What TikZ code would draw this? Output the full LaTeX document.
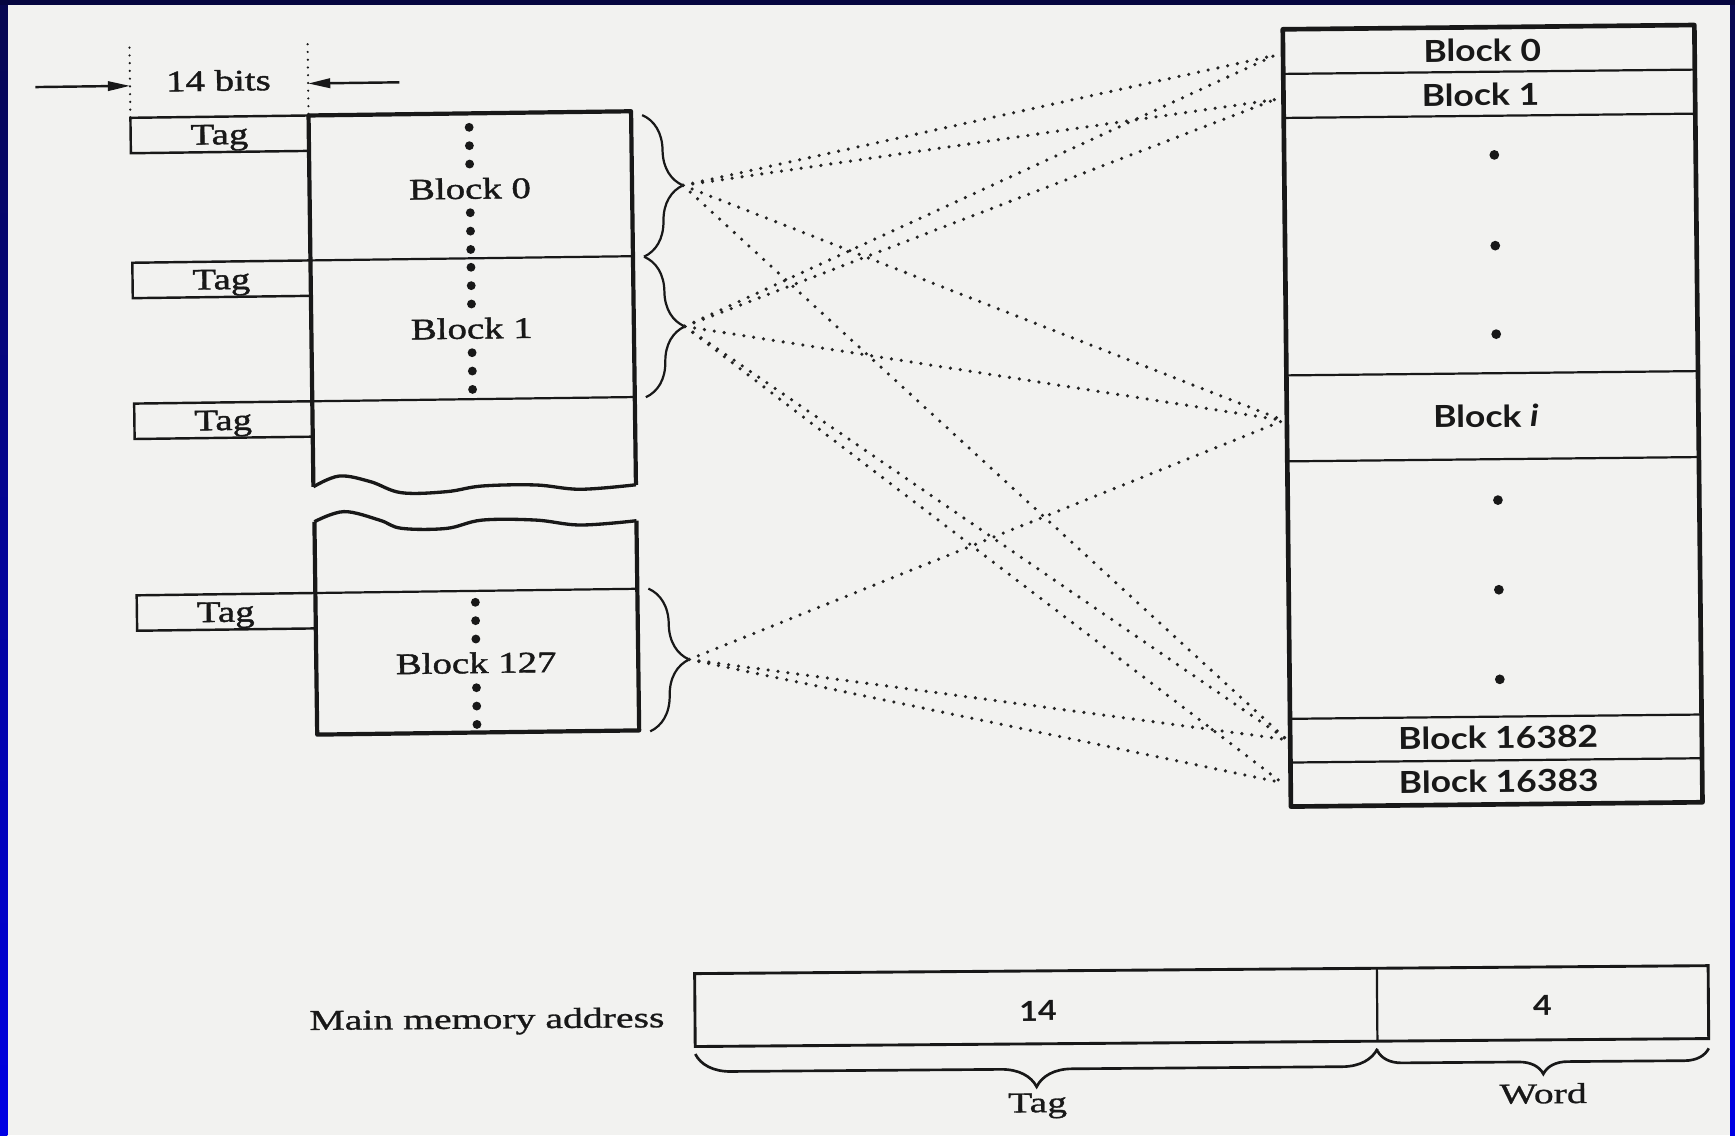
\documentclass[tikz,border=0pt]{standalone}
\usepackage{fontspec}
\setmainfont{Liberation Serif}
\newfontfamily\lser[FakeStretch=1.3, FakeBold=1.4]{Liberation Serif}
\newfontfamily\bser[FakeStretch=1.38, FakeBold=1.0]{Liberation Serif}
\newfontfamily\rsans[FakeStretch=1.17]{Lato}
\usetikzlibrary{decorations.pathreplacing,arrows.meta}
\definecolor{paper}{RGB}{242,242,240}
\definecolor{inkc}{RGB}{24,24,24}
\definecolor{dotc}{RGB}{35,35,35}
\definecolor{navy}{RGB}{8,8,80}
\definecolor{bblue}{RGB}{0,0,228}
\tikzset{
  memframe/.style={draw=inkc, line width=3.8pt, line join=round},
  wavy/.style={draw=inkc, line width=3pt},
  sepl/.style={draw=inkc, line width=2pt},
  tagbox/.style={draw=inkc, line width=2.2pt},
  conn/.style={draw=dotc, line width=3.2pt, dash pattern=on 0pt off 9pt, line cap=round},
  guide/.style={draw=inkc, line width=2.2pt, dash pattern=on 0pt off 7pt, line cap=round},
  dimarrow/.style={draw=inkc, line width=2.2pt, -{Triangle[length=20pt,width=8.5pt]}},
  lbr/.style={draw=inkc, line width=2pt, decorate, decoration={brace, amplitude=36pt}},
  bbr/.style={draw=inkc, line width=2.4pt, decorate, decoration={brace, mirror, amplitude=#1}},
  ltxt/.style={text=inkc, font=\lser\fontsize{27pt}{32pt}\selectfont, inner sep=0pt, anchor=base},
  rtxt/.style={text=inkc, font=\rsans\bfseries\fontsize{27.4pt}{32pt}\selectfont, inner sep=0pt, anchor=base},
  btxt/.style={text=inkc, font=\bser\fontsize{26pt}{31pt}\selectfont, inner sep=0pt, anchor=base},
  ntxt/.style={text=inkc, font=\rsans\bfseries\fontsize{25pt}{30pt}\selectfont, inner sep=0pt, anchor=base},
}
\begin{document}
\begin{tikzpicture}[x=1pt,y=-1pt]
\useasboundingbox (0,0) rectangle (1568,1026);
% paper and frame
\fill[paper] (0,0) rectangle (1568,1026);
\shade[top color=navy, bottom color=bblue] (0,0) rectangle (6.6,1026);
\shade[top color=navy, bottom color=bblue] (1563.5,0) rectangle (1568,1026);
\fill[navy!80!black] (0,0) rectangle (1568,4.5);

% ---------------- cache (left) ----------------
\begin{scope}[rotate around={0.75:(430,383)}, transform shape]
  % upper part
  \draw[memframe] (574,440) -- (574,102.4) -- (282.5,102.4) -- (282.5,438);
  \draw[wavy] plot[smooth, tension=0.6] coordinates {(282.5,438) (306,428.6) (334,434) (362,444.4) (402.6,444) (435,439.3) (483.4,439) (523.7,443.4) (574,440)};
  % lower part
  \draw[memframe] (283,469.6) -- (283,662) -- (574,662) -- (574,472.5);
  \draw[wavy] plot[smooth, tension=0.6] coordinates {(283,469.6) (309.7,460.8) (341.9,468.9) (361.8,476.6) (402.2,477.2) (434.6,470.1) (482.9,470.7) (523.3,475.7) (574,472.5)};
  % separators
  \draw[sepl] (282.5,233.4) -- (574,233.4);
  \draw[sepl] (282.5,360.7) -- (574,360.7);
  \draw[sepl] (283,534) -- (574,534);
  % tag boxes
  \foreach \t/\n in {102.4/1,233.4/2,360.7/3,534/4}{
    \draw[tagbox] (282.5,\t) -- (121.5,\t) -- (121.5,{\t+32}) -- (282.5,{\t+32});
    \node[ltxt] (tag\n) at (201.75,{\t+25}) {Tag};
  }
  % 14 bits dimension
  \draw[guide] (121.5,39) -- (121.5,102.4);
  \draw[guide] (282.5,38) -- (282.5,102.4);
  \coordinate (dimL) at (121.5,73.5);
  \coordinate (dimR) at (282.5,73.5);
  \coordinate (dimLs) at (36,73.5);
  \coordinate (dimRs) at (365,73.5);
  \draw[dimarrow] (dimLs) -- (dimL);
  \draw[dimarrow] (dimRs) -- (dimR);
  \node[ltxt] (bits) at (201.5,79) {14 bits};
  % block labels and dot columns
  \node[ltxt] (lb0) at (427.5,179.6) {Block 0};
  \node[ltxt] (lb1) at (427.5,306) {Block 1};
  \node[ltxt] (lb127) at (427.5,608.3) {Block 127};
  \foreach \c in {170.2,296.7,599.5}
    \foreach \d in {-55.2,-38.6,-22,22,38.6,55.2}
      \fill[inkc] (427.5,{\c+\d}) circle[radius=4pt];
  % braces
  \draw[lbr] (584,106) -- (584,234);
  \draw[lbr] (584,234) -- (584,361);
  \draw[lbr] (584,534) -- (584,663);
  \coordinate (t0) at (620,170);
  \coordinate (t1) at (620,297.5);
  \coordinate (t127) at (620,598.5);
\end{scope}

% ---------------- main memory (right) ----------------
\begin{scope}[rotate around={0.6:(1350,380)}, transform shape]
  \draw[memframe, line width=4.2pt] (1163,24.5) rectangle (1535,727);
  \foreach \s in {64.8,104.6,337.3,415,647.7,687.2}
    \draw[sepl] (1163,\s) -- (1535,\s);
  \node[rtxt] (rb0) at (1343,55.4) {Block 0};
  \node[rtxt] (rb1) at (1341,95.5) {Block 1};
  \node[rtxt] (rbi) at (1343,386) {Block {\itshape i}};
  \node[rtxt] (rb82) at (1351,676.5) {Block 16382};
  \node[rtxt] (rb83) at (1351,716) {Block 16383};
  \foreach \y in {140,222,302,452,533,614}
    \fill[inkc] (1353,\y) circle[radius=4.4pt];
  \coordinate (r0) at (1155.5,48);
  \coordinate (r1) at (1155,88);
  \coordinate (ri) at (1160,378);
  \coordinate (r82) at (1160,666.5);
  \coordinate (r83) at (1155,705.3);
\end{scope}

% ---------------- mapping lines ----------------
\foreach \a/\b in {t0/r0,t0/r1,t0/ri,t0/r82,
                   t1/r0,t1/r1,t1/ri,t1/r82,t1/r83,
                   t127/ri,t127/r82,t127/r83}
  \draw[conn] (\a) -- (\b);

% ---------------- address format (bottom) ----------------
\begin{scope}[rotate around={0.45:(1085,910)}, transform shape]
  \draw[draw=inkc, line width=2.6pt] (628,876.3) rectangle (1544,942.2);
  \draw[sepl] (1244.6,876.3) -- (1244.6,942.2);
  \node[btxt] (mma) at (440,924.5) {Main memory address};
  \node[ntxt] (f14) at (938,921.5) {14};
  \node[ntxt] (f4) at (1394,920.5) {4};
  \draw[bbr=32pt] (628,949) -- (1244.6,949);
  \draw[bbr=22pt] (1244.6,951) -- (1544,951);
  \node[btxt] (ftag) at (937,1004) {Tag};
  \node[btxt] (fword) at (1394,999.5) {Word};
\end{scope}
\end{tikzpicture}
\end{document}
